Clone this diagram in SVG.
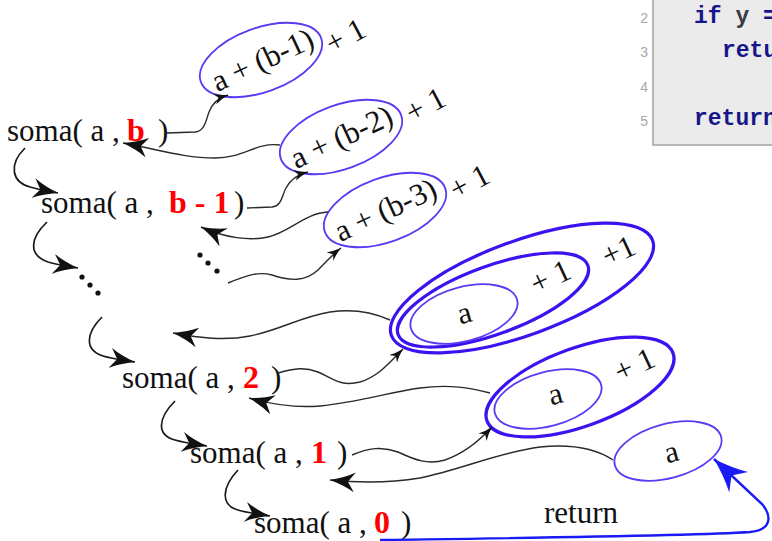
<svg xmlns="http://www.w3.org/2000/svg" width="772" height="541" viewBox="0 0 772 541">
<style>
  .t{font-family:"Liberation Serif","Times New Roman",serif;font-size:31px;fill:#111}
  .r{font-family:"Liberation Serif","Times New Roman",serif;font-size:32px;font-weight:bold;fill:#ff0000}
  .et{font-family:"Liberation Serif","Times New Roman",serif;font-size:31px;fill:#111;text-anchor:middle}
  .thin{fill:none;stroke:#5a3af2;stroke-width:1.8}
  .thick{fill:none;stroke:#3d12f0;stroke-width:3.2}
  .w{fill:none;stroke:#2a2a2a;stroke-width:1.4}
  .d{fill:none;stroke:#1a1a1a;stroke-width:1.7}
  .code{font-family:"Liberation Mono","DejaVu Sans Mono",monospace;font-size:23px;font-weight:bold;fill:#16168a}
  .ln{font-family:"Liberation Sans",Arial,sans-serif;font-size:14px;fill:#a8a8a8;text-anchor:end}
</style>
<defs>
  <marker id="big" viewBox="0 0 25 20" refX="25" refY="10" markerWidth="25" markerHeight="20" markerUnits="userSpaceOnUse" orient="auto">
    <path d="M25,10 Q10,6 0,0 L7,10 L0,20 Q10,14 25,10 Z" fill="#111"/>
  </marker>
  <marker id="small" viewBox="0 0 14 11" refX="14" refY="5.5" markerWidth="14" markerHeight="11" markerUnits="userSpaceOnUse" orient="auto">
    <path d="M14,5.5 Q5.5,3.3 0,0 L4,5.5 L0,11 Q5.5,7.7 14,5.5 Z" fill="#111"/>
  </marker>
  <marker id="blue" viewBox="0 0 34 28" refX="34" refY="14" markerWidth="34" markerHeight="28" markerUnits="userSpaceOnUse" orient="auto">
    <path d="M34,14 Q14,8 0,0 L10,14 L0,28 Q14,20 34,14 Z" fill="#1a1af5"/>
  </marker>
</defs>

<g id="code">
  <rect x="653" y="-10" width="140" height="155" fill="#ebebeb" stroke="#a3a3a3" stroke-width="1.5"/>
  <text class="ln" x="648" y="23">2</text>
  <text class="ln" x="648" y="57">3</text>
  <text class="ln" x="648" y="92">4</text>
  <text class="ln" x="648" y="126">5</text>
  <text class="code" x="694" y="23">if <tspan fill="#3a3a48">y</tspan> =</text>
  <text class="code" x="722" y="57">retu</text>
  <text class="code" x="694" y="125">return</text>
</g>

<g id="soma-b">
  <text class="t" x="7" y="141">soma( a ,</text>
  <text class="r" x="127" y="141">b</text>
  <text class="t" x="158" y="141">)</text>
</g>
<g id="soma-b1">
  <text class="t" x="41" y="213">soma( a ,</text>
  <text class="r" x="169" y="213">b - 1</text>
  <text class="t" x="234" y="213">)</text>
</g>
<g id="soma-2">
  <text class="t" x="122" y="388">soma( a ,</text>
  <text class="r" x="243" y="388">2</text>
  <text class="t" x="271" y="388">)</text>
</g>
<g id="soma-1">
  <text class="t" x="190" y="463">soma( a ,</text>
  <text class="r" x="311" y="463">1</text>
  <text class="t" x="337" y="463">)</text>
</g>
<g id="soma-0">
  <text class="t" x="254" y="533">soma( a ,</text>
  <text class="r" x="374" y="533">0</text>
  <text class="t" x="401" y="533">)</text>
</g>

<g id="dots">
  <circle cx="200" cy="255" r="2.6" fill="#111"/>
  <circle cx="208" cy="263" r="2.6" fill="#111"/>
  <circle cx="217" cy="271" r="2.6" fill="#111"/>
  <circle cx="82" cy="277" r="2.6" fill="#111"/>
  <circle cx="90" cy="285" r="2.6" fill="#111"/>
  <circle cx="98" cy="293" r="2.6" fill="#111"/>
</g>

<g id="e1">
  <ellipse class="thin" cx="261" cy="60" rx="64" ry="32" transform="rotate(-20 261 60)"/>
  <text class="et" transform="translate(263 61) rotate(-25)" y="9">a + (b-1)</text>
  <text class="et" transform="translate(346 37) rotate(-28)" y="9">+  1</text>
</g>
<g id="e2">
  <ellipse class="thin" cx="341" cy="137" rx="64" ry="32" transform="rotate(-20 341 137)"/>
  <text class="et" transform="translate(342 138) rotate(-25)" y="9">a + (b-2)</text>
  <text class="et" transform="translate(426 106) rotate(-28)" y="9">+  1</text>
</g>
<g id="e3">
  <ellipse class="thin" cx="385" cy="210" rx="64" ry="32" transform="rotate(-20 385 210)"/>
  <text class="et" transform="translate(386 211) rotate(-25)" y="9">a + (b-3)</text>
  <text class="et" transform="translate(470 183) rotate(-28)" y="9">+  1</text>
</g>

<g id="nest2">
  <ellipse class="thick" cx="522" cy="288" rx="139" ry="47" transform="rotate(-20 522 288)" stroke-width="3.6"/>
  <ellipse class="thick" cx="493" cy="300" rx="101" ry="34" transform="rotate(-20 493 300)" stroke-width="2.8"/>
  <ellipse class="thin" cx="464" cy="314" rx="55" ry="27" transform="rotate(-15 464 314)"/>
  <text class="et" transform="translate(465 316) rotate(-15)" y="7">a</text>
  <text class="et" transform="translate(551 278) rotate(-25)" y="9">+ 1</text>
  <text class="et" transform="translate(619 252) rotate(-25)" y="9">+1</text>
</g>

<g id="nest1">
  <ellipse class="thick" cx="580" cy="387" rx="99" ry="39" transform="rotate(-20 580 387)"/>
  <ellipse class="thin" cx="548" cy="399" rx="55" ry="27" transform="rotate(-15 548 399)"/>
  <text class="et" transform="translate(556 397) rotate(-15)" y="7">a</text>
  <text class="et" transform="translate(635 366) rotate(-25)" y="9">+ 1</text>
</g>

<g id="base">
  <ellipse class="thin" cx="668" cy="451" rx="55" ry="27" transform="rotate(-15 668 451)"/>
  <text class="et" transform="translate(672 455) rotate(-15)" y="7">a</text>
</g>

<g id="connectors">
  <path class="w" d="M167,133 L195,132 C205,131 206,120 209,112 C212,104 218,98 228,95" marker-end="url(#small)"/>
  <path class="w" d="M280,145 C255,142 245,158 215,158 C185,158 160,150 123,143" marker-end="url(#big)"/>
  <path class="w" d="M247,208 L272,207 C282,206 282,195 286,188 C290,180 296,175 308,172" marker-end="url(#small)"/>
  <path class="w" d="M328,212 C305,213 290,232 268,237 C250,241 225,238 201,227" marker-end="url(#big)"/>
  <path class="w" d="M228,283 C245,276 258,271 272,275 C290,281 305,282 318,270 C326,262 332,255 341,248" marker-end="url(#small)"/>
  <path class="w" d="M390,320 C370,311 350,309 330,312 C300,317 280,330 250,336 C225,341 200,338 173,333" marker-end="url(#big)"/>
  <path class="w" d="M278,373 C295,368 305,367 318,372 C332,378 340,387 360,382 C378,377 390,362 403,349" marker-end="url(#small)"/>
  <path class="w" d="M490,393 C470,388 450,384 420,388 C390,392 360,402 320,406 C295,408 270,404 249,398" marker-end="url(#big)"/>
  <path class="w" d="M352,455 C368,448 382,446 398,452 C415,460 428,465 445,460 C465,453 480,440 492,427" marker-end="url(#small)"/>
  <path class="w" d="M613,460 C595,448 570,444 540,447 C500,452 460,470 420,478 C390,483 360,483 330,480" marker-end="url(#big)"/>

  <path class="d" d="M25,148 C8,165 12,182 30,187 C40,190 48,191 58,193" marker-end="url(#big)"/>
  <path class="d" d="M47,222 C30,238 28,255 48,262 C58,265 66,266 78,268" marker-end="url(#big)"/>
  <path class="d" d="M102,317 C86,333 84,350 103,356 C113,359 123,360 135,362" marker-end="url(#big)"/>
  <path class="d" d="M175,401 C158,418 156,435 175,440 C185,443 195,444 207,446" marker-end="url(#big)"/>
  <path class="d" d="M238,470 C222,487 220,505 238,510 C248,513 258,514 270,516" marker-end="url(#big)"/>

  <path d="M380,540 C520,538 690,536 750,532 C772,530 772,516 762,504 L714,459" fill="none" stroke="#1a1af5" stroke-width="2.4" marker-end="url(#blue)"/>
  <text class="t" x="544" y="523">return</text>
</g>
</svg>
